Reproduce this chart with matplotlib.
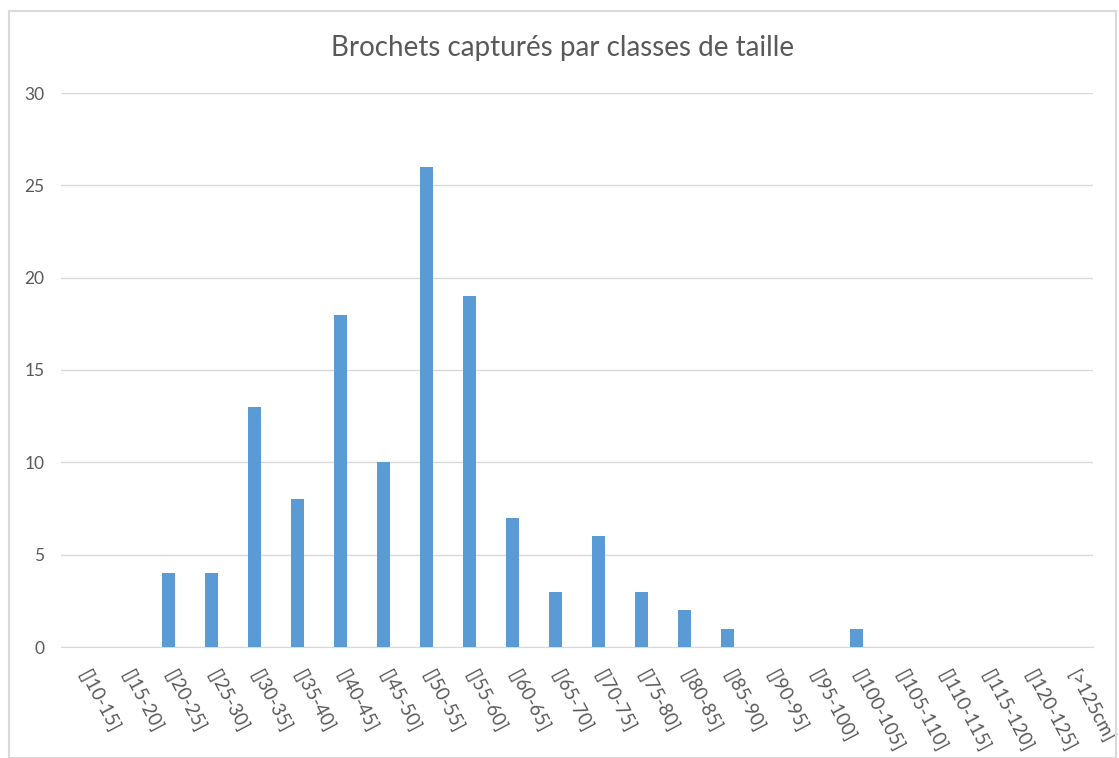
import matplotlib.pyplot as plt
from matplotlib.patches import Rectangle

# classes de taille (cm) et nombre de brochets captures
classes = ['[]10-15]', '[]15-20]', '[]20-25]', '[]25-30]', '[]30-35]', '[]35-40]',
           '[]40-45]', '[]45-50]', '[]50-55]', '[]55-60]', '[]60-65]', '[]65-70]',
           '[]70-75]', '[]75-80]', '[]80-85]', '[]85-90]', '[]90-95]', '[]95-100]',
           '[]100-105]', '[]105-110]', '[]110-115]', '[]115-120]', '[]120-125]', '[>125cm]']
captures = [0, 0, 4, 4, 13, 8, 18, 10, 26, 19, 7, 3,
            6, 3, 2, 1, 0, 0, 1, 0, 0, 0, 0, 0]
y_ticks = [0, 5, 10, 15, 20, 25, 30]

plt.rcParams['font.family'] = ['Lato', 'DejaVu Sans']
gris = '#595959'
W, H = 1119, 758

fig = plt.figure(figsize=(W / 100, H / 100), dpi=100)
# cadre du graphique (style Excel)
fig.patches.append(Rectangle((9 / W, 0), (1116 - 9) / W, 1 - 11 / H,
                             transform=fig.transFigure, fill=False,
                             edgecolor='#d9d9d9', linewidth=1.5))

ax = fig.add_axes([61 / W, 1 - 647 / H, (1093 - 61) / W, (647 - 93) / H])
x = list(range(len(classes)))
ax.bar(x, captures, width=0.29, color='#5B9BD5', zorder=3)

ax.set_xlim(-0.5, len(classes) - 0.5)
ax.set_ylim(0, 30)
ax.set_yticks(y_ticks)
ax.set_yticklabels([str(v) for v in y_ticks], color=gris, fontsize=12.5)
ax.grid(axis='y', color='#d9d9d9', linewidth=1, zorder=0)

ax.set_xticks(x)
ax.set_xticklabels(classes, rotation=-62, ha='left', va='center',
                   rotation_mode='anchor', color=gris, fontsize=13.5)

for s in ['top', 'right', 'left']:
    ax.spines[s].set_visible(False)
ax.spines['bottom'].set_color('#d9d9d9')
ax.tick_params(axis='both', length=0)
ax.tick_params(axis='x', pad=17)
ax.tick_params(axis='y', pad=12)

fig.text(563 / W, 1 - 48 / H, 'Brochets capturés par classes de taille',
         ha='center', va='center', color=gris, fontsize=20)

fig.savefig('out.png', dpi=100)
